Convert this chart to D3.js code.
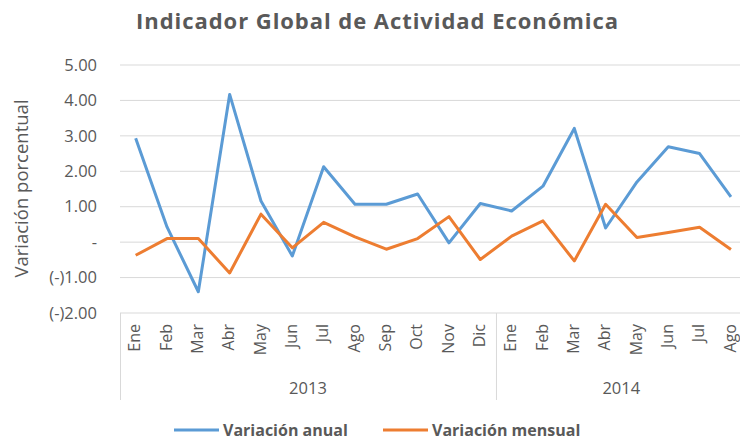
<script src="https://cdn.jsdelivr.net/npm/d3@7/dist/d3.min.js"></script>
<style>
    body { background: #fff; margin: 0; font-family: "Open Sans", Arial, sans-serif; }
    svg { display: block; }
</style>

<svg width="740" height="440"></svg>

<script>
    // data
    const years = ["2013", "2014"];
    const months2013 = ["Ene", "Feb", "Mar", "Abr", "May", "Jun", "Jul", "Ago", "Sep", "Oct", "Nov", "Dic"];
    const months2014 = ["Ene", "Feb", "Mar", "Abr", "May", "Jun", "Jul", "Ago"];
    const anual = [2.93, 0.43, -1.40, 4.17, 1.16, -0.39, 2.13, 1.07, 1.07, 1.36, -0.02, 1.09,
                   0.88, 1.58, 3.21, 0.40, 1.70, 2.69, 2.50, 1.28];
    const mensual = [-0.37, 0.10, 0.10, -0.87, 0.79, -0.16, 0.56, 0.15, -0.20, 0.10, 0.72, -0.49,
                     0.17, 0.60, -0.53, 1.07, 0.13, 0.27, 0.42, -0.21];
    const yTicks = [-2, -1, 0, 1, 2, 3, 4, 5];
    const seriesNames = ["Variación anual", "Variación mensual"];
    const colors = ["#5b9bd5", "#ed7d31"];

    const cats = [
        ...months2013.map(m => ({ year: years[0], month: m })),
        ...months2014.map(m => ({ year: years[1], month: m }))
    ];

    const svg = d3.select("svg");
    const grey = "#595959";

    // one band is 31.33px, the chart is cut off on the right like the original
    const x = d3.scaleBand().domain(d3.range(cats.length)).range([120, 120 + cats.length * 31.33]);
    const y = d3.scaleLinear().domain([-2, 5]).range([313, 65]);

    // title
    svg.append("text")
        .attr("x", 377).attr("y", 29)
        .attr("text-anchor", "middle")
        .attr("font-size", 22).attr("font-weight", "bold")
        .attr("textLength", 482)
        .attr("fill", grey)
        .text("Indicador Global de Actividad Económica");

    // grid
    svg.append("g").selectAll("line")
        .data(yTicks.filter(d => d > -2))
        .enter().append("line")
        .attr("x1", 120).attr("x2", 740)
        .attr("y1", d => y(d)).attr("y2", d => y(d))
        .attr("stroke", "#d9d9d9").attr("stroke-width", 1);

    // y tick labels
    const fmt = d => d === 0 ? "-" : d < 0 ? "(-)" + Math.abs(d).toFixed(2) : d.toFixed(2);
    svg.append("g").selectAll("text")
        .data(yTicks)
        .enter().append("text")
        .attr("x", 97).attr("y", d => y(d))
        .attr("dy", "0.35em")
        .attr("text-anchor", "end")
        .attr("font-size", 16.5).attr("fill", grey)
        .text(fmt);

    // y axis title
    svg.append("text")
        .attr("transform", `translate(28,${(97 + 280) / 2}) rotate(-90)`)
        .attr("text-anchor", "middle")
        .attr("font-size", 18.5).attr("fill", grey)
        .text("Variación porcentual");

    // category box (two levels)
    const bottom = 400;
    const axis = svg.append("g").attr("stroke", "#d9d9d9").attr("stroke-width", 1);
    axis.append("line").attr("x1", 120).attr("x2", 740).attr("y1", y(-2)).attr("y2", y(-2));
    const splits = [0, months2013.length];
    axis.selectAll(".split")
        .data(splits)
        .enter().append("line")
        .attr("x1", d => x(d) + 0.5).attr("x2", d => x(d) + 0.5)
        .attr("y1", y(-2)).attr("y2", bottom);

    svg.append("g").selectAll("text")
        .data(cats)
        .enter().append("text")
        .attr("transform", (d, i) => `translate(${x(i) + x.bandwidth() / 2},324) rotate(-90)`)
        .attr("text-anchor", "end")
        .attr("dy", "0.3em")
        .attr("font-size", 16).attr("fill", grey)
        .text(d => d.month);

    const yearMid = [
        (x(0) + x(months2013.length - 1) + x.bandwidth()) / 2,
        (x(months2013.length) + x(cats.length - 1) + x.bandwidth()) / 2
    ];
    svg.append("g").selectAll("text")
        .data(years)
        .enter().append("text")
        .attr("x", (d, i) => yearMid[i]).attr("y", 388)
        .attr("dy", "0.35em")
        .attr("text-anchor", "middle")
        .attr("font-size", 16.5).attr("fill", grey)
        .text(d => d);

    // lines
    const line = d3.line()
        .x((d, i) => x(i) + x.bandwidth() / 2)
        .y(d => y(d));

    svg.append("g").selectAll("path")
        .data([anual, mensual])
        .enter().append("path")
        .attr("fill", "none")
        .attr("stroke", (d, i) => colors[i])
        .attr("stroke-width", 3)
        .attr("stroke-linejoin", "round")
        .attr("d", line);

    // legend
    const legX = [174, 383];
    const leg = svg.append("g").selectAll("g")
        .data(seriesNames)
        .enter().append("g")
        .attr("transform", (d, i) => `translate(${legX[i]},430)`);
    leg.append("line")
        .attr("x1", 0).attr("x2", 45)
        .attr("stroke", (d, i) => colors[i]).attr("stroke-width", 3);
    leg.append("text")
        .attr("x", 49).attr("dy", "0.35em")
        .attr("font-size", 16).attr("font-weight", "bold")
        .attr("fill", grey)
        .text(d => d);
</script>
